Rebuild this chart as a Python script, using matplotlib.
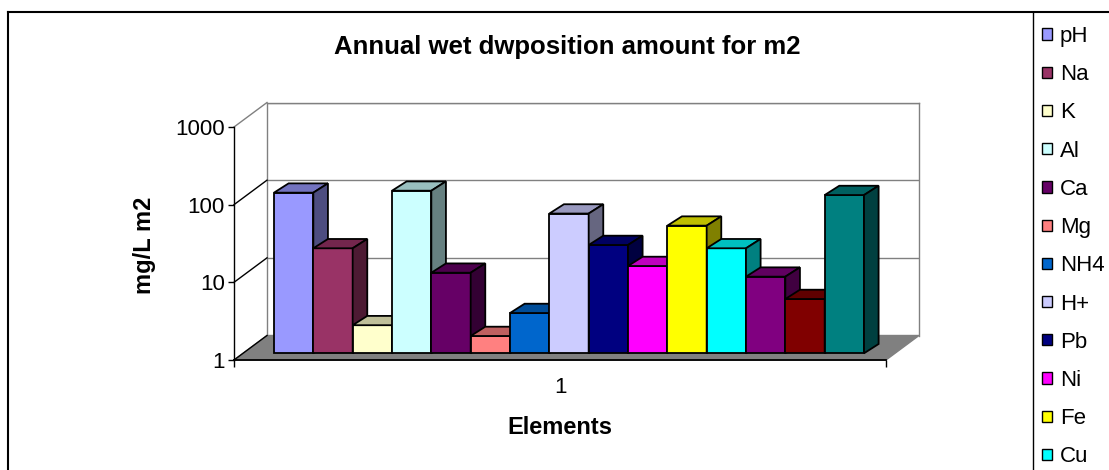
import numpy as np
import matplotlib
matplotlib.use('Agg')
import matplotlib.pyplot as plt
from matplotlib import transforms
from matplotlib.colors import to_rgb
from matplotlib.lines import Line2D
from matplotlib.patches import Polygon, Patch
from matplotlib.ticker import NullLocator

# wet deposition per element, mg/L per m2
elements = ['pH', 'Na', 'K', 'Al', 'Ca', 'Mg', 'NH4', 'H+', 'Pb', 'Ni',
            'Fe', 'Cu', 'Zn', 'Cr', 'Cd']
amounts = [117, 22.5, 2.3, 124, 10.9, 1.67, 3.3, 63, 24.8, 13.3,
           44, 22.5, 9.7, 5.0, 109]
colors = ['#9999FF', '#993366', '#FFFFCC', '#CCFFFF', '#660066', '#FF8080',
          '#0066CC', '#CCCCFF', '#000080', '#FF00FF', '#FFFF00', '#00FFFF',
          '#800080', '#800000', '#008080']
y_ticks = [1, 10, 100, 1000]
y_labels = ['1', '10', '100', '1000']
groups = ['1']

W, H, DPI = 1109, 470, 100
plt.rcParams['font.family'] = ['Liberation Sans', 'DejaVu Sans']


def px_box(left, top, right, bottom):
    return [left / W, 1 - bottom / H, (right - left) / W, (bottom - top) / H]


def shade(c, f):
    return tuple(v * f for v in to_rgb(c))


fig = plt.figure(figsize=(W / DPI, H / DPI), dpi=DPI)

# front plane and back wall of the box
front = (234, 127, 886, 360)
wall_dx, wall_dy = 33, 24.5
ax = fig.add_axes(px_box(*front))
wall = fig.add_axes(px_box(front[0] + wall_dx, front[1] - wall_dy,
                           front[2] + wall_dx, front[3] - wall_dy))
wall.set_zorder(0)
ax.set_zorder(1)
ax.patch.set_visible(False)

for a in (ax, wall):
    a.set_yscale('log')
    a.set_ylim(1, 1000)
    a.set_xlim(-0.5, 0.5)

ax_w = front[2] - front[0]
decade = (front[3] - front[1]) / 3

# back wall with gridlines
wall.set_yticks(y_ticks)
wall.yaxis.set_minor_locator(NullLocator())
wall.grid(axis='y', color='#808080', lw=1)
wall.tick_params(which='both', length=0, labelleft=False, labelbottom=False)
for s in ('left', 'top', 'right'):
    wall.spines[s].set_color('#808080')
    wall.spines[s].set_linewidth(1)
wall.spines['bottom'].set_visible(False)

# floor
bx, by = wall_dx / ax_w, wall_dy / (front[3] - front[1])
floor = Polygon([(0, 0), (1, 0), (1 + bx, by), (bx, by)], closed=True,
                facecolor='#808080', edgecolor='#808080', lw=1,
                transform=ax.transAxes, clip_on=False, zorder=0)
ax.add_patch(floor)

# side wall edges
kb = 10 ** (wall_dy / decade)
for t in y_ticks:
    ax.plot([-0.5, -0.5 + bx], [t, t * kb], color='#808080' if t == 1000 else 'black',
            lw=1, clip_on=False, zorder=0.5)

# bars
bar_shift = transforms.ScaledTranslation(9.0 / DPI, 6.7 / DPI, fig.dpi_scale_trans)
bar_trans = ax.transData + bar_shift
bw = 590 / ax_w / len(amounts)
xs = (np.arange(len(amounts)) - (len(amounts) - 1) / 2) * bw
dd = 14.6 / ax_w
kd = 10 ** (9.3 / decade)
for i, (x, v, c) in enumerate(zip(xs, amounts, colors)):
    x0, x1 = x - bw / 2, x + bw / 2
    z = 2 + 3 * i
    ax.bar(x, v - 1, width=bw, bottom=1, color=c, edgecolor='black', lw=1.3,
           transform=bar_trans, clip_on=False, zorder=z)
    top = Polygon([(x0, v), (x1, v), (x1 + dd, v * kd), (x0 + dd, v * kd)],
                  facecolor=shade(c, 0.75), edgecolor='black', lw=1.3,
                  transform=bar_trans, clip_on=False, zorder=z + 1)
    side = Polygon([(x1, 1), (x1, v), (x1 + dd, v * kd), (x1 + dd, kd)],
                   facecolor=shade(c, 0.5), edgecolor='black', lw=1.3,
                   transform=bar_trans, clip_on=False, zorder=z + 1.5)
    ax.add_patch(top)
    ax.add_patch(side)

# axes
ax.set_yticks(y_ticks, y_labels)
ax.yaxis.set_minor_locator(NullLocator())
ax.tick_params(axis='y', which='major', length=4.5, width=1, pad=2, labelsize=16)
ax.set_xticks([-0.5, 0.5], ['', ''])
ax.set_xticks([0], groups, minor=True)
ax.tick_params(axis='x', which='major', length=5, width=1)
ax.tick_params(axis='x', which='minor', length=0, pad=12, labelsize=16)
for s in ('top', 'right'):
    ax.spines[s].set_visible(False)
ax.spines['left'].set_linewidth(1)
ax.spines['bottom'].set_linewidth(1.3)
ax.spines['bottom'].set_zorder(100)

ax.set_xlabel('Elements', fontsize=17, fontweight='bold')
ax.xaxis.label.set_va('center')
ax.xaxis.set_label_coords(0.5, (front[3] - 428) / (front[3] - front[1]))
ax.set_ylabel('mg/L m2', fontsize=17, fontweight='bold')
ax.yaxis.label.set_va('center')
ax.yaxis.set_label_coords((145 - front[0]) / ax_w, (front[3] - 245) / (front[3] - front[1]))

fig.text(567 / W, 1 - 47 / H, 'Annual wet dwposition amount for m2',
         ha='center', va='center', fontsize=18.5, fontweight='bold')

# legend
handles = [Patch(facecolor=c, edgecolor='black', lw=1) for c in colors]
fig.legend(handles, elements, loc='upper left', bbox_to_anchor=(1042 / W, 1 - 26 / H),
           frameon=False, fontsize=16, handlelength=0.45, handleheight=0.4,
           handletextpad=0.35, labelspacing=0.775, borderpad=0, borderaxespad=0)

# chart frame and legend box edge
fig.add_artist(Line2D([8 / W, 1], [1 - 12 / H] * 2, color='black', lw=1.5,
                      transform=fig.transFigure))
fig.add_artist(Line2D([8 / W] * 2, [0, 1 - 12 / H], color='black', lw=1.5,
                      transform=fig.transFigure))
fig.add_artist(Line2D([1033 / W] * 2, [0, 1 - 12 / H], color='black', lw=1,
                      transform=fig.transFigure))

fig.savefig('out.png', dpi=DPI)
